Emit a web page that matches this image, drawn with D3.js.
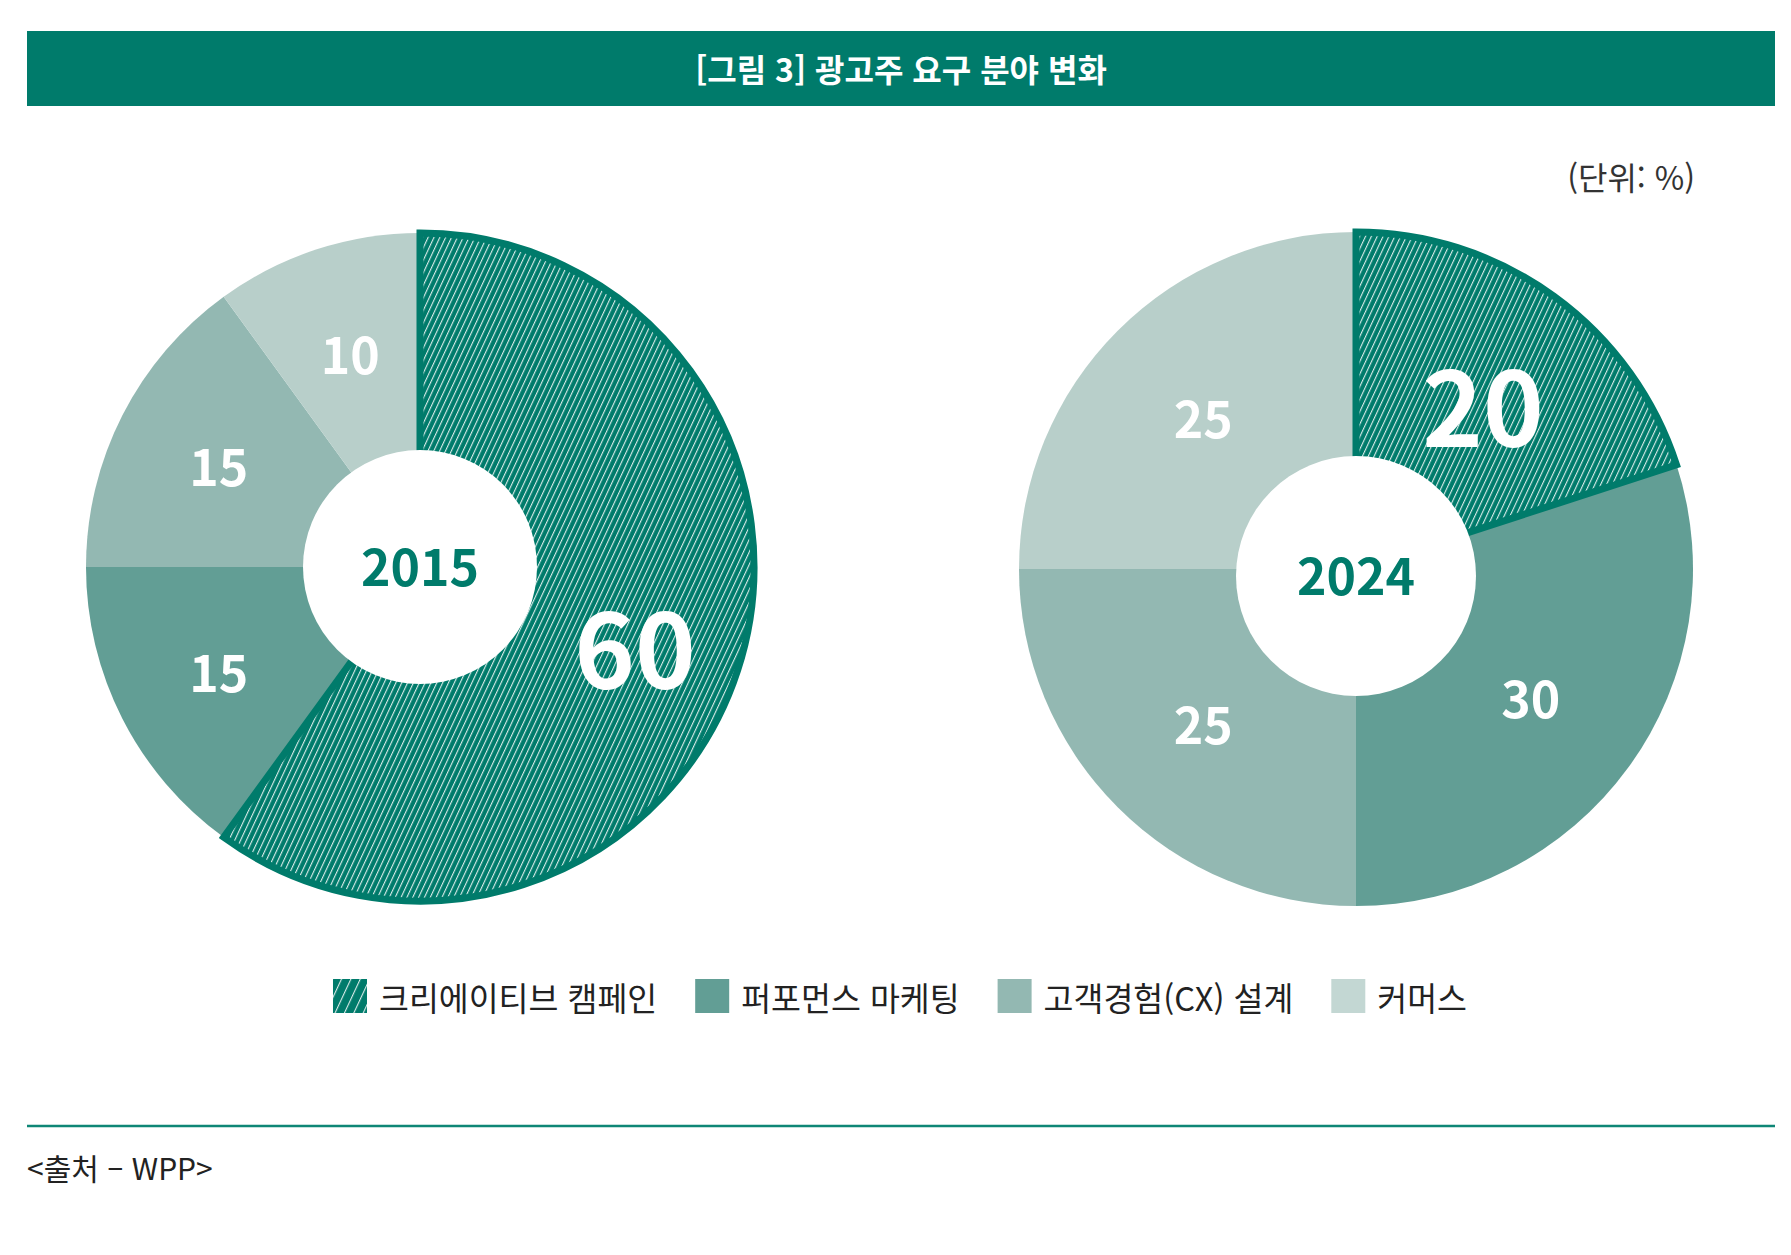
<!DOCTYPE html>
<html lang="ko">
<head>
    <meta charset="UTF-8">
    <title>광고주 요구 분야 변화</title>
    <style>
        body { margin: 0; background: #fff; }
        svg text { font-family: "Noto Sans CJK KR", "Noto Sans", sans-serif; }
    </style>
</head>
<body>
<div id="chart"></div>
<script src="https://d3js.org/d3.v7.min.js"></script>
<script>
    // 크기와 위치
    const WIDTH = 1791;
    const HEIGHT = 1255;
    const DARK = "#007b6b";

    // 데이터
    const CATEGORIES = ["크리에이티브 캠페인", "퍼포먼스 마케팅", "고객경험(CX) 설계", "커머스"];
    const COLORS = ["url(#hatch)", "#629e95", "#93b8b2", "#b8cfca"];
    const LEGEND_COLORS = ["url(#hatch-legend)", "#629e95", "#93b8b2", "#c3d7d3"];
    const YEARS = ["2015", "2024"];
    const VALUES_2015 = [60, 15, 15, 10];
    const VALUES_2024 = [20, 30, 25, 25];

    // 도넛 배치 (중심, 반지름, 구멍, 값 라벨 반지름)
    const DONUTS = [
        { year: YEARS[0], values: VALUES_2015, cx: 420, cy: 567, r: 334, hole: 117, holeDy: 0, labelR: 226 },
        { year: YEARS[1], values: VALUES_2024, cx: 1356, cy: 569, r: 337, hole: 120, holeDy: 7, labelR: 216 }
    ];

    const svg = d3.select("#chart")
        .append("svg")
        .attr("width", WIDTH)
        .attr("height", HEIGHT);

    // 빗금 패턴
    const defs = svg.append("defs");
    function hatch(id, step) {
        const p = defs.append("pattern")
            .attr("id", id)
            .attr("patternUnits", "userSpaceOnUse")
            .attr("width", step)
            .attr("height", 20)
            .attr("patternTransform", "rotate(25)");
        p.append("rect").attr("width", step).attr("height", 20).attr("fill", DARK);
        p.append("rect").attr("x", 0).attr("width", 1.1).attr("height", 20)
            .attr("fill", "#fff").attr("opacity", 0.85);
    }
    hatch("hatch", 5.3);
    hatch("hatch-legend", 8.5);

    // 제목 바
    svg.append("rect")
        .attr("x", 27).attr("y", 31)
        .attr("width", 1748).attr("height", 75)
        .attr("fill", DARK);
    svg.append("text")
        .attr("x", 901).attr("y", 68)
        .attr("text-anchor", "middle")
        .attr("dominant-baseline", "central")
        .attr("font-size", 32)
        .attr("font-weight", 700)
        .attr("fill", "#fff")
        .text("[그림 3] 광고주 요구 분야 변화");

    // 단위
    svg.append("text")
        .attr("x", 1695).attr("y", 176)
        .attr("text-anchor", "end")
        .attr("dominant-baseline", "central")
        .attr("font-size", 32)
        .attr("fill", "#333")
        .text("(단위: %)");

    const pie = d3.pie().sort(null).value(d => d);

    DONUTS.forEach(d => {
        const g = svg.append("g").attr("transform", `translate(${d.cx}, ${d.cy})`);
        const arc = d3.arc().innerRadius(0).outerRadius(d.r);
        const labelArc = d3.arc().innerRadius(d.labelR).outerRadius(d.labelR);
        const arcs = pie(d.values);

        // 나머지 조각 먼저, 빗금 조각은 마지막(테두리 때문에)
        const order = [1, 2, 3, 0];
        g.selectAll("path.slice")
            .data(order.map(i => arcs[i]))
            .enter()
            .append("path")
            .attr("class", "slice")
            .attr("d", arc)
            .attr("fill", a => COLORS[a.index])
            .attr("stroke", a => a.index === 0 ? DARK : "none")
            .attr("stroke-width", 7)
            .attr("stroke-linejoin", "miter");

        // 가운데 구멍
        g.append("circle")
            .attr("cx", 0).attr("cy", d.holeDy)
            .attr("r", d.hole)
            .attr("fill", "#fff");

        g.append("text")
            .attr("x", 0).attr("y", d.holeDy - 3)
            .attr("text-anchor", "middle")
            .attr("dominant-baseline", "central")
            .attr("font-size", 50)
            .attr("font-weight", 700)
            .attr("fill", DARK)
            .text(d.year);

        g.selectAll("text.value")
            .data(arcs)
            .enter()
            .append("text")
            .attr("class", "value")
            .attr("x", a => labelArc.centroid(a)[0])
            .attr("y", a => labelArc.centroid(a)[1] + (a.index === 0 ? 8 : 0))
            .attr("text-anchor", "middle")
            .attr("dominant-baseline", "central")
            .attr("font-size", a => a.index === 0 ? 103 : 50)
            .attr("font-weight", 700)
            .attr("fill", "#fff")
            .text(a => a.data);
    });

    // 범례
    const legend = svg.append("g").attr("transform", "translate(0, 996)");
    const items = legend.selectAll("g")
        .data(CATEGORIES)
        .enter()
        .append("g");
    items.append("rect")
        .attr("y", -17)
        .attr("width", 34).attr("height", 34)
        .attr("fill", (c, i) => LEGEND_COLORS[i]);
    items.append("text")
        .attr("x", 46)
        .attr("dominant-baseline", "central")
        .attr("font-size", 32.5)
        .attr("fill", "#222")
        .text(c => c);

    let widths = [];
    items.each(function () {
        widths.push(46 + d3.select(this).select("text").node().getComputedTextLength());
    });
    const gap = 38;
    const total = d3.sum(widths) + gap * (widths.length - 1);
    let x = 900 - total / 2;
    items.attr("transform", (c, i) => {
        const t = `translate(${x}, 0)`;
        x += widths[i] + gap;
        return t;
    });

    // 아래 선과 출처
    svg.append("line")
        .attr("x1", 27).attr("x2", 1775)
        .attr("y1", 1126).attr("y2", 1126)
        .attr("stroke", "#0e8676")
        .attr("stroke-width", 2.5);
    svg.append("text")
        .attr("x", 27).attr("y", 1167)
        .attr("dominant-baseline", "central")
        .attr("font-size", 30)
        .attr("fill", "#222")
        .text("<출처 – WPP>");
</script>
</body>
</html>
